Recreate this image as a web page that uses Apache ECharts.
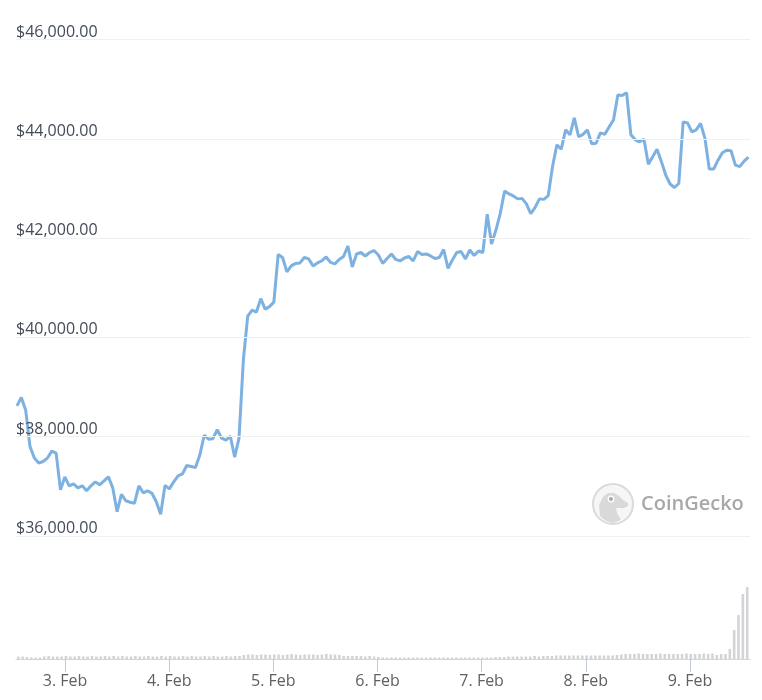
<!DOCTYPE html>
<html>
<head>
<meta charset="utf-8">
<style>html,body{margin:0;padding:0;background:#fff}#c{width:762px;height:700px}</style>
<script src="https://cdn.jsdelivr.net/npm/echarts@6/dist/echarts.min.js"></script>
</head>
<body>
<div id="c"></div>
<script>
const startTime = Date.UTC(2021, 1, 2, 13, 12);
const stepMs = 3600000;
const prices = [
38620,38790,38540,37800,37570,37470,37500,37570,37710,37670,
36930,37190,37010,37050,36970,37010,36910,37010,37090,37030,
37110,37190,36970,36490,36840,36710,36680,36660,37010,36870,
36910,36860,36690,36440,37020,36950,37090,37210,37250,37420,
37400,37380,37630,38030,37950,37960,38140,37970,37930,38010,
37590,37970,39550,40430,40550,40510,40780,40570,40620,40710,
41670,41610,41320,41440,41490,41500,41610,41580,41440,41500,
41540,41620,41510,41480,41570,41630,41840,41420,41680,41710,
41640,41710,41750,41660,41490,41590,41680,41570,41540,41600,
41630,41540,41730,41670,41680,41640,41590,41610,41770,41390,
41560,41710,41730,41580,41760,41650,41740,41710,42480,41880,
42160,42500,42950,42890,42850,42790,42800,42690,42490,42620,
42790,42780,42850,43440,43880,43790,44180,44080,44420,44040,
44090,44180,43900,43910,44120,44090,44240,44380,44880,44870,
44930,44080,43980,43940,43990,43490,43640,43790,43540,43270,
43090,43020,43100,44340,44320,44140,44180,44310,44010,43390,
43390,43570,43720,43770,43760,43470,43440,43550,43630
];
const volumes = [
2.5,2.5,2,1.5,1.5,1.5,2.5,3,2.5,2.5,
2.5,3,2.5,2.5,3,2.5,2.5,3,2.5,2.5,
3,2.5,3,2.5,3,2.5,2.5,3,2.5,2.5,
3,2.5,2.5,3,2.5,3,2.5,2.5,3,2.5,
3,2.5,2.5,3,2.5,3,2.5,2.5,3,2.5,
3,3,4,4.5,4.5,4,4.5,4.5,4,4.5,
4.5,4,4.5,5,4.5,4,4.5,4.5,4.5,4,
4.5,5,4.5,4.5,4,3,3,3,3,3,
2.5,3,2.5,2,1.5,1.5,1.5,1.5,1.5,1.5,
1.5,1.5,1.5,1.5,1.5,1.5,1.5,1.5,1.5,1.5,
1.5,1.5,1.5,1.5,1.5,1.5,1.5,1.5,1.5,1.5,
2,2,2,2.5,2.5,2.5,2.5,2.5,2.5,3,
2.5,3,3,3,3.5,3.5,3.5,3.5,3.5,3.5,
3.5,3.5,3.5,3.5,3.5,3.5,3.5,3.5,4,4.5,
5,5,5,5.5,5,5,5,5,5.5,5,
5,5,5,5,5.5,5,5,5,5.5,5,
5.5,4,5,5,10,29,44,65,72
];
const priceTicks = {min: 36000, max: 46000, interval: 2000};
const seriesPrice = prices.map((v, i) => [startTime + i * stepMs, v]);
const seriesVolume = volumes.map((v, i) => [startTime + i * stepMs, v]);
const xMin = Date.UTC(2021, 1, 2, 12, 59);
const xMax = Date.UTC(2021, 1, 9, 13, 33);

const chart = echarts.init(document.getElementById('c'), null, {renderer: 'canvas'});
const font = '"Open Sans", sans-serif';
chart.setOption({
  animation: false,
  useUTC: true,
  backgroundColor: '#fff',
  grid: [
    {left: 16, right: 12, top: 39.5, height: 496.5},
    {left: 16, right: 12, top: 559, height: 100}
  ],
  xAxis: [
    {type: 'time', gridIndex: 0, min: xMin, max: xMax, show: false},
    {
      type: 'time', gridIndex: 1, min: xMin, max: xMax, z: 5,
      minInterval: 86400000, maxInterval: 86400000,
      axisLine: {show: true, lineStyle: {color: '#ccd6eb', width: 1}},
      axisTick: {show: true, length: 13, lineStyle: {color: '#c0c8da', width: 1}},
      splitLine: {show: false},
      minorTick: {show: false},
      axisLabel: {
        color: '#606060', fontFamily: font, fontSize: 16, margin: 14, hideOverlap: false,
        showMinLabel: false, showMaxLabel: false,
        formatter: v => new Date(v).getUTCDate() + '. Feb'
      }
    }
  ],
  yAxis: [
    {
      type: 'value', gridIndex: 0, z: 5,
      min: priceTicks.min, max: priceTicks.max, interval: priceTicks.interval,
      axisLine: {show: false}, axisTick: {show: false},
      splitLine: {show: true, lineStyle: {color: '#f0f0f0', width: 1}},
      axisLabel: {
        inside: true, margin: 0, align: 'left', verticalAlign: 'bottom',
        color: '#434b57', fontFamily: font, fontSize: 16, lineHeight: 15,
        formatter: v => '$' + v.toLocaleString('en-US', {minimumFractionDigits: 2, maximumFractionDigits: 2})
      }
    },
    {
      type: 'value', gridIndex: 1, min: 0, max: 100, show: false, splitLine: {show: false}
    }
  ],
  series: [
    {
      type: 'line', xAxisIndex: 0, yAxisIndex: 0, data: seriesPrice,
      showSymbol: false, smooth: false, clip: false, z: 2,
      lineStyle: {color: '#7cb1e2', width: 3}
    },
    {
      type: 'bar', xAxisIndex: 1, yAxisIndex: 1, data: seriesVolume,
      barWidth: 2.6, clip: false, itemStyle: {color: '#d2d4d8'}
    }
  ],
  graphic: [
    {type: 'circle', silent: true, shape: {cx: 613, cy: 504, r: 20}, style: {fill: '#f6f6f6', stroke: '#dadada', lineWidth: 2}},
    {type: 'polygon', silent: true, shape: {points: [[600,516],[599,505],[603,497],[608,493],[614,493],[619,496],[623,500],[628,503],[628,506],[624,508],[616,508],[617,513],[621,520],[613,523],[606,521]]}, style: {fill: '#d9d9d9'}},
    {type: 'circle', silent: true, shape: {cx: 611, cy: 499, r: 3.4}, style: {fill: '#ffffff'}},
    {type: 'circle', silent: true, shape: {cx: 611, cy: 499, r: 2}, style: {fill: '#a8a8a8'}},
    {type: 'text', silent: true, style: {x: 641, y: 504, text: 'CoinGecko', fill: '#a8a8a8', font: '600 20px "Open Sans", sans-serif', textVerticalAlign: 'middle', textAlign: 'left'}}
  ]
});
</script>
</body>
</html>
